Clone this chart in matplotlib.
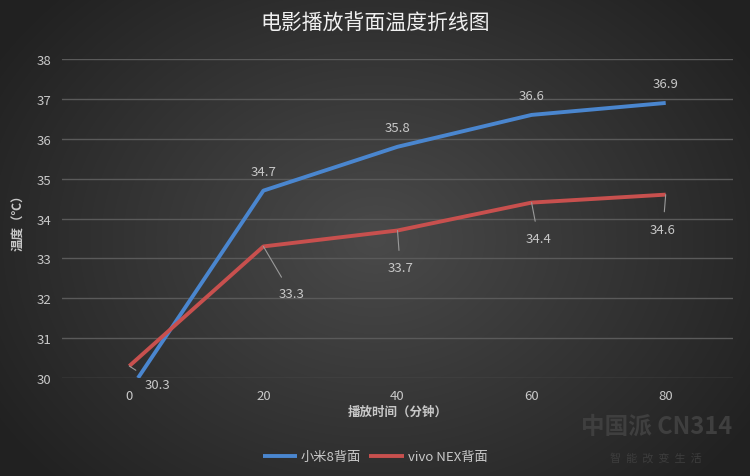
import numpy as np
import matplotlib
matplotlib.use("Agg")
from matplotlib import pyplot as plt

plt.rcParams['font.family'] = ['Noto Sans CJK SC', 'DejaVu Sans']

title = '电影播放背面温度折线图'
xlabel = '播放时间（分钟）'
ylabel = '温度（℃）'

mi8_name = '小米8背面'
mi8_x = [1.3, 20, 40, 60, 80]
mi8_y = [30.0, 34.7, 35.8, 36.6, 36.9]

nex_name = 'vivo NEX背面'
nex_x = [0, 20, 40, 60, 80]
nex_y = [30.3, 33.3, 33.7, 34.4, 34.6]

x_ticks = [0, 20, 40, 60, 80]
y_ticks = [30, 31, 32, 33, 34, 35, 36, 37, 38]

blue = '#4a86cf'
red = '#c8504e'
txt = '#c8c8c8'

fig = plt.figure(figsize=(7.5, 4.77), dpi=100)

# radial gradient background
bg = fig.add_axes([0, 0, 1, 1], zorder=-10)
yy, xx = np.mgrid[0:477, 0:750]
r = np.sqrt(((xx - 375) / 420.0) ** 2 + ((yy - 240) / 330.0) ** 2)
shade = np.clip(0.29 - 0.15 * r, 0.13, 0.29)
bg.imshow(np.dstack([shade] * 3), aspect='auto', extent=[0, 1, 0, 1])
bg.axis('off')

ax = fig.add_axes([0.083, 0.2055, 0.894, 0.6685])
ax.set_facecolor('none')
ax.set_xlim(-10, 90)
ax.set_ylim(30, 38)
ax.set_xticks(x_ticks)
ax.set_yticks(y_ticks)
ax.grid(axis='y', color='#5a5a5a', linewidth=1)
ax.set_axisbelow(True)
for s in ax.spines.values():
    s.set_visible(False)
ax.tick_params(length=0, colors=txt, labelsize=9.5, pad=8)

ax.plot(mi8_x, mi8_y, color=blue, linewidth=2.8, label=mi8_name, solid_capstyle='butt')
ax.plot(nex_x, nex_y, color=red, linewidth=2.8, label=nex_name, solid_capstyle='butt')

for x, y in zip(mi8_x[1:], mi8_y[1:]):
    ax.annotate(f'{y:.1f}', (x, y), xytext=(0, 14), textcoords='offset points',
                ha='center', va='center', color=txt, fontsize=9.5)

nex_off = [(20, -13), (20, -34), (2, -27), (5, -26), (-2, -25)]
for (x, y), (dx, dy) in zip(zip(nex_x, nex_y), nex_off):
    ax.annotate(f'{y:.1f}', (x, y), xytext=(dx, dy), textcoords='offset points',
                ha='center', va='center', color=txt, fontsize=9.5,
                arrowprops=dict(arrowstyle='-', color='#9a9a9a', lw=0.8,
                                shrinkA=6, shrinkB=0))

ax.set_xlabel(xlabel, color=txt, fontsize=9, fontweight='bold', labelpad=2)
ax.set_ylabel(ylabel, color=txt, fontsize=9, fontweight='bold', labelpad=8)

fig.text(0.5, 0.95, title, ha='center', va='center', color='#f0f0f0', fontsize=15,
         fontweight='medium')

leg = fig.legend(loc='center', bbox_to_anchor=(0.5, 0.04), ncol=2, frameon=False,
                 fontsize=9.5, handlelength=2.6, columnspacing=0.6, handletextpad=0.3)
for t in leg.get_texts():
    t.set_color(txt)

# faint watermark
fig.text(0.875, 0.105, '中国派 CN314', ha='center', va='center', color='#3f3f3f',
         fontsize=17, fontweight='bold')
fig.text(0.875, 0.04, '智  能  改  变  生  活', ha='center', va='center', color='#3d3d3d', fontsize=8)

plt.savefig('out.png', dpi=100)
